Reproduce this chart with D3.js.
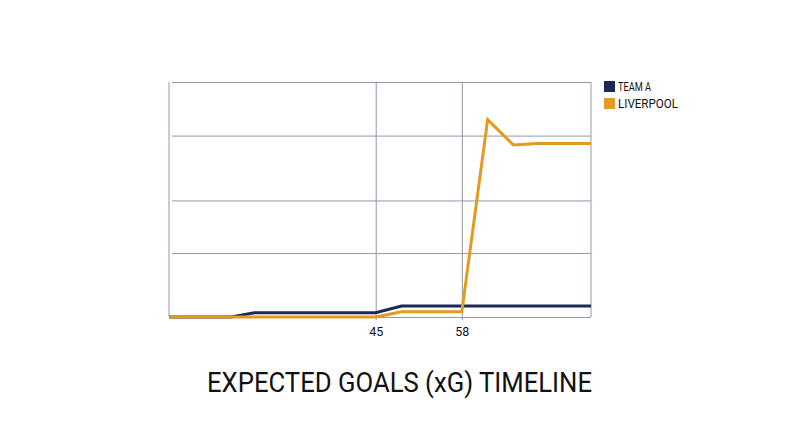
<!DOCTYPE html>
<html>
<head>
<meta charset="utf-8">
<script src="https://cdn.jsdelivr.net/npm/d3@7"></script>
<style>
  html, body { margin: 0; padding: 0; background: #fff; }
  svg { display: block; }
</style>
</head>
<body>
<svg id="chart"></svg>
<script>
const width = 800;
const height = 447;

// x in match minutes, y in xG
const xDomain = [13.8, 77.5];
const yDomain = [0, 2.5];
const xTicks = [45, 58];
const yTicks = [0, 0.68, 1.24, 1.93, 2.5];

const teamAMinutes = [13.8, 23.2, 26.7, 45, 48.9, 77.5];
const teamAxg      = [0, 0, 0.046, 0.046, 0.117, 0.117];

const liverpoolMinutes = [13.8, 45, 48.9, 58, 61.9, 65.8, 69.4, 77.5];
const liverpoolXg      = [0, 0, 0.056, 0.056, 2.10, 1.83, 1.845, 1.845];

const seriesNames = ['TEAM A', 'LIVERPOOL'];
const colors = ['#1d2859', '#e29a1f'];

const margin = {left: 169, right: 209, top: 82, bottom: 130};
const gridColor = '#9297ab';

const svg = d3.select('#chart')
  .attr('width', width)
  .attr('height', height)
  .style('background-color', '#fff');

const x = d3.scaleLinear().domain(xDomain).range([margin.left, width - margin.right]);
const y = d3.scaleLinear().domain(yDomain).range([height - margin.bottom, margin.top]);

// horizontal grid + left ticks
svg.append('g')
  .attr('transform', `translate(${margin.left},0)`)
  .call(d3.axisLeft(y).tickValues(yTicks).tickSize(-(x.range()[1] - x.range()[0])).tickFormat(''))
  .call(g => g.select('.domain').remove())
  .call(g => g.selectAll('line').attr('stroke', gridColor).attr('x1', 3));

// vertical grid at labelled minutes
svg.append('g')
  .attr('transform', `translate(0,${y(0)})`)
  .call(d3.axisBottom(x).tickValues(xTicks).tickSize(0).tickPadding(10).tickFormat(d3.format('d')))
  .call(g => g.select('.domain').remove())
  .call(g => g.selectAll('line')
    .attr('stroke', gridColor)
    .attr('y1', 3)
    .attr('y2', -(y.range()[0] - y.range()[1])))
  .call(g => g.selectAll('text')
    .attr('fill', '#111')
    .style('font-family', 'Roboto')
    .style('font-size', '12.5px'));

// frame sides
svg.append('line')
  .attr('x1', x.range()[0]).attr('x2', x.range()[0])
  .attr('y1', y.range()[1]).attr('y2', y.range()[0])
  .attr('stroke', gridColor);
svg.append('line')
  .attr('x1', x.range()[1]).attr('x2', x.range()[1])
  .attr('y1', y.range()[1]).attr('y2', y.range()[0])
  .attr('stroke', gridColor);

const line = d3.line()
  .x(d => x(d[0]))
  .y(d => y(d[1]));

const series = [
  d3.zip(teamAMinutes, teamAxg),
  d3.zip(liverpoolMinutes, liverpoolXg)
];

series.forEach((pts, i) => {
  svg.append('path')
    .datum(pts)
    .attr('fill', 'none')
    .attr('stroke', colors[i])
    .attr('stroke-width', 3)
    .attr('stroke-linejoin', 'miter')
    .attr('d', line);
});

// legend
const legend = svg.append('g').attr('transform', 'translate(604,81)');
seriesNames.forEach((name, i) => {
  const row = legend.append('g').attr('transform', `translate(0,${i * 17})`);
  row.append('rect')
    .attr('width', 11).attr('height', 11)
    .attr('fill', colors[i]);
  row.append('text')
    .attr('x', 14)
    .attr('y', 10)
    .attr('textLength', i === 0 ? 33 : 60)
    .attr('lengthAdjust', 'spacingAndGlyphs')
    .style('font-family', 'Roboto')
    .style('font-size', '12px')
    .attr('fill', '#111')
    .text(name);
});

// title
svg.append('text')
  .attr('x', 399.5)
  .attr('y', 392)
  .attr('text-anchor', 'middle')
  .attr('textLength', 385)
  .attr('lengthAdjust', 'spacingAndGlyphs')
  .style('font-family', 'Roboto')
  .style('font-size', '27px')
  .attr('fill', '#111')
  .text('EXPECTED GOALS (xG) TIMELINE');
</script>
</body>
</html>
